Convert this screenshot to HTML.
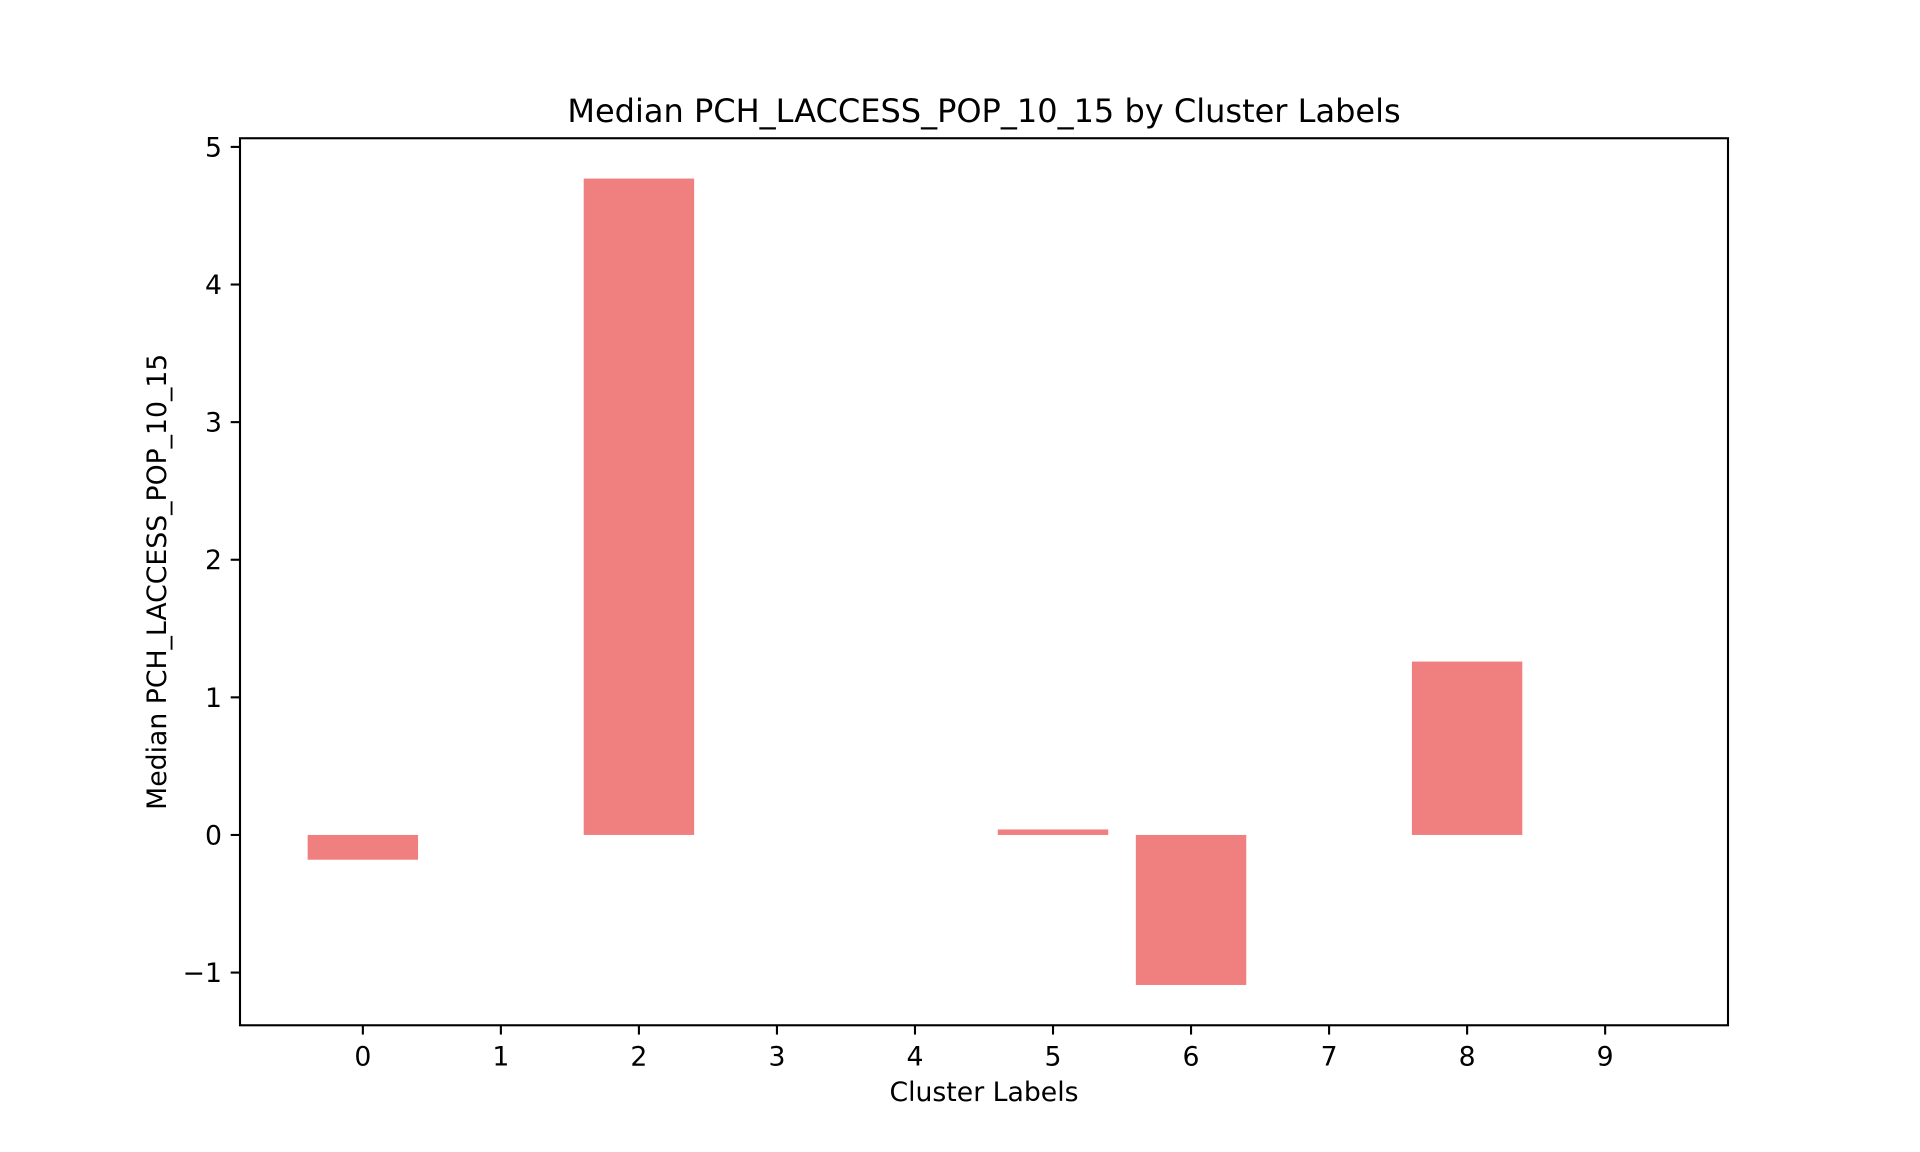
<!DOCTYPE html>
<html><head><meta charset="utf-8"><style>
html,body{margin:0;padding:0;background:#fff;}
svg{display:block;font-family:"DejaVu Sans","Liberation Sans",sans-serif;}
</style></head><body>
<svg id="chart" width="1920" height="1152" viewBox="0 0 1920 1152">
<rect width="1920" height="1152" fill="#fff"/>
<g id="bars"></g>
<g id="xticks"></g>
<g id="yticks"></g>
<rect x="240" y="138.24" width="1488" height="887.04" fill="none" stroke="#000" stroke-width="2.1"/>
<text x="984" y="122" text-anchor="middle" font-size="32" fill="#000">Median PCH_LACCESS_POP_10_15 by Cluster Labels</text>
<text x="984" y="1101" text-anchor="middle" font-size="26.7" fill="#000">Cluster Labels</text>
<text transform="translate(166,581.76) rotate(-90)" text-anchor="middle" font-size="26.7" fill="#000">Median PCH_LACCESS_POP_10_15</text>
</svg>
<script>
const categories = [0,1,2,3,4,5,6,7,8,9];
const values = [-0.18, 0, 4.77, 0, 0, 0.04, -1.09, 0, 1.26, 0];
const yTickValues = [-1,0,1,2,3,4,5];
const yTickLabels = ["\u22121","0","1","2","3","4","5"];

const NS="http://www.w3.org/2000/svg";
const L=240,R=1728,T=138.24,B=1025.28;
const vmin=Math.min(0,...values), vmax=Math.max(0,...values), span=vmax-vmin;
const y0=vmin-0.05*span, y1=vmax+0.05*span;
const xmin=-0.4-0.49, xmax=categories.length-1+0.4+0.49;
const xs=v=>L+(v-xmin)/(xmax-xmin)*(R-L);
const ys=v=>B-(v-y0)/(y1-y0)*(B-T);
function mk(tag,attrs,parent){const e=document.createElementNS(NS,tag);for(const k in attrs)e.setAttribute(k,attrs[k]);parent.appendChild(e);return e;}
const gb=document.getElementById('bars');
categories.forEach((c,i)=>{
  const v=values[i];
  const top=ys(Math.max(v,0)), bot=ys(Math.min(v,0));
  const r=mk('rect',{x:xs(c-0.4),y:top,width:xs(c+0.4)-xs(c-0.4),height:Math.max(0,bot-top),fill:'#f08080'},gb);
  
  
});
const gx=document.getElementById('xticks');
categories.forEach(c=>{
  const x=xs(c);
  const l=mk('line',{x1:x,x2:x,y1:B,y2:B+9.3,stroke:'#000','stroke-width':2.1},gx);
  
  
  const t=mk('text',{x:x,y:B+40,'text-anchor':'middle','font-size':26.7,fill:'#000'},gx);
  t.textContent=String(c);
  
  
});
const gy=document.getElementById('yticks');
yTickValues.forEach((v,i)=>{
  const y=ys(v);
  const l=mk('line',{x1:L-9.3,x2:L,y1:y,y2:y,stroke:'#000','stroke-width':2.1},gy);
  
  
  const t=mk('text',{x:L-18,y:y+9.5,'text-anchor':'end','font-size':26.7,fill:'#000'},gy);
  t.textContent=yTickLabels[i];
  
  
});
</script>
</body></html>
